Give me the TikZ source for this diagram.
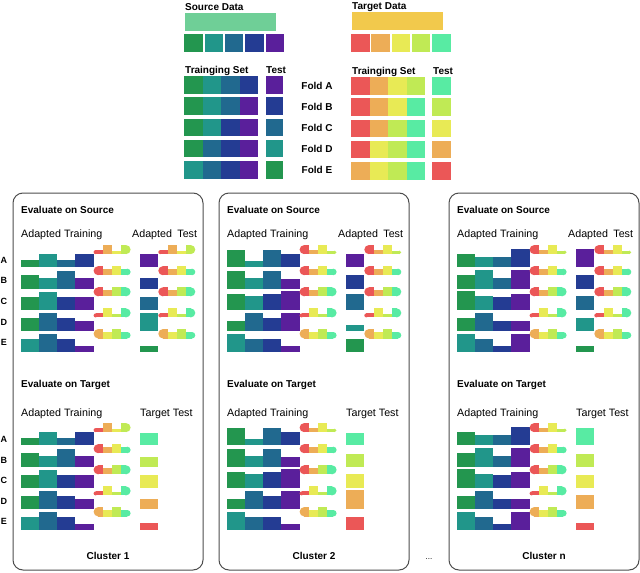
\documentclass[tikz,border=0pt]{standalone}
\usepackage{fontspec}
\setmainfont{Liberation Sans}
\usetikzlibrary{positioning}

\definecolor{sgreen}{HTML}{23964F}
\definecolor{steal}{HTML}{21968A}
\definecolor{sblue}{HTML}{21698F}
\definecolor{snavy}{HTML}{243C93}
\definecolor{spurple}{HTML}{5A1F9B}
\definecolor{tred}{HTML}{EB5757}
\definecolor{torange}{HTML}{EDAD57}
\definecolor{tyellow}{HTML}{E8EA55}
\definecolor{tlime}{HTML}{C0EA55}
\definecolor{tmint}{HTML}{58EBA3}
\definecolor{srcbar}{HTML}{6FCF97}
\definecolor{tgtbar}{HTML}{F2C94C}
\definecolor{boxgray}{HTML}{4D4D4D}

% one row of adapted training bars: x, bottom, colour/height list
\newcommand{\barrow}[3]{%
  \foreach \c/\h [count=\i from 0] in {#3}
    \fill[\c] ({#1+18.15*\i},#2) rectangle ++(18.15,-\h);%
}
% small rounded strip of target colours: x, bottom, colour/height list
\newcommand{\pillrow}[3]{%
  \foreach \c/\h [count=\i from 1] in {#3}{%
    \pgfmathsetmacro\xl{#1+9.25*(\i-1)}%
    \ifnum\i=1
      \fill[\c] ({\xl+\h/2},#2) rectangle ({\xl+9.25},{#2-\h});
      \fill[\c] ({\xl+\h/2},{#2-\h/2}) circle[radius=\h/2];
    \else\ifnum\i=4
      \fill[\c] (\xl,#2) rectangle ({\xl+9.25-\h/2},{#2-\h});
      \fill[\c] ({\xl+9.25-\h/2},{#2-\h/2}) circle[radius=\h/2];
    \else
      \fill[\c] (\xl,#2) rectangle ({\xl+9.25},{#2-\h});
    \fi\fi
  }%
}
% five bar rows: x, y offset, rows A..E
\newcommand{\barset}[7]{%
  \barrow{#1}{267.4+#2}{#3}
  \barrow{#1}{288.5+#2}{#4}
  \barrow{#1}{309.6+#2}{#5}
  \barrow{#1}{330.7+#2}{#6}
  \barrow{#1}{351.8+#2}{#7}%
}
% five strips: x, y offset, first strip (the other four are the same everywhere)
\newcommand{\pillset}[3]{%
  \pillrow{#1}{254.1+#2}{#3}
  \pillrow{#1}{275.2+#2}{tred/9,torange/6.5,tyellow/9,tmint/6.5}
  \pillrow{#1}{296.3+#2}{tred/9,torange/6.5,tlime/9,tmint/9}
  \pillrow{#1}{317.4+#2}{tred/4,tyellow/9,tlime/3.5,tmint/9}
  \pillrow{#1}{338.5+#2}{torange/9.5,tyellow/6.5,tlime/9.5,tmint/6.5}%
}
% test squares: x, y offset, colour/height list
\newcommand{\testcol}[3]{%
  \foreach \c/\h [count=\i from 0] in {#3}
    \fill[\c] (#1,{267.4+21.1*\i+#2}) rectangle ++(18.4,-\h);%
}
% frame and texts of one cluster: x0, name, label
\newcommand{\clusterframe}[3]{%
  \draw[clusterbox] ({#1-8},193) rectangle ({#1+182},570);
  \node[bhead] (#2-src) at (#1,213.5) {Evaluate on Source};
  \node[head] (#2-srctrain) at (#1,237.7) {Adapted Training};
  \node[head] (#2-srctest) at ({#1+111},237.7) {Adapted\enspace Test};
  \node[bhead] (#2-tgt) at (#1,387.5) {Evaluate on Target};
  \node[head] (#2-tgttrain) at (#1,416.7) {Adapted Training};
  \node[head] (#2-tgttest) at ({#1+119},416.7) {Target Test};
  \node[bhead, anchor=base] (#2-name) at ({#1+87},559) {#3};%
}

\begin{document}
\begin{tikzpicture}[x=1pt,y=-1pt,
    bhead/.style={font=\bfseries\fontsize{10}{12}\selectfont, anchor=base west, inner sep=0},
    head/.style={font=\fontsize{10.7}{12}\selectfont, anchor=base west, inner sep=0},
    rowlab/.style={font=\bfseries\fontsize{9}{11}\selectfont, inner sep=0},
    clusterbox/.style={draw=boxgray, line width=1pt, rounded corners=10pt}]
  \useasboundingbox (0,0) rectangle (640,573);
  % Source and target data
  \node[bhead] (srcdata) at (185,10) {Source Data};
  \node[bhead] (tgtdata) at (352,9.5) {Target Data};
  \fill[srcbar] (185,13.3) rectangle (275.5,31);
  \fill[tgtbar] (351.7,12.3) rectangle (443,29.7);
  \foreach \c [count=\j from 0] in {sgreen,steal,sblue,snavy,spurple}
    \fill[\c] ({184.3+20.3*\j},34.3) rectangle ++(18.5,18);
  \foreach \c [count=\j from 0] in {tred,torange,tyellow,tlime,tmint}
    \fill[\c] ({351+20.3*\j},34) rectangle ++(18.5,18);
  % Folds
  \node[bhead] (srctrain) at (185,73) {Trainging Set};
  \node[bhead] (srctest) at (266,73) {Test};
  \node[bhead] (tgttrain) at (352,74.5) {Trainging Set};
  \node[bhead] (tgttest) at (433,74.5) {Test};
  \foreach \f [count=\i from 0] in {A,B,C,D,E}
    \node[bhead, anchor=base] (fold\f) at (317,{89.3+21.1*\i}) {Fold \f};
  \foreach \row [count=\i from 0] in {{sgreen,steal,sblue,snavy,spurple},
      {sgreen,steal,sblue,spurple,snavy},{sgreen,steal,snavy,spurple,sblue},
      {sgreen,sblue,snavy,spurple,steal},{steal,sblue,snavy,spurple,sgreen}}
    \foreach \c [count=\j from 0] in \row {
      \ifnum\j<4
        \fill[\c] ({184.3+18.45*\j},{76+21.25*\i}) rectangle ++(18.45,17.5);
      \else
        \fill[\c] (265.7,{76+21.25*\i}) rectangle ++(17.7,17.5);
      \fi}
  \foreach \row [count=\i from 0] in {{tred,torange,tyellow,tlime,tmint},
      {tred,torange,tyellow,tmint,tlime},{tred,torange,tlime,tmint,tyellow},
      {tred,tyellow,tlime,tmint,torange},{torange,tyellow,tlime,tmint,tred}}
    \foreach \c [count=\j from 0] in \row {
      \ifnum\j<4
        \fill[\c] ({351+18.5*\j},{77.2+21.2*\i}) rectangle ++(18.5,17.5);
      \else
        \fill[\c] (432.3,{77.2+21.2*\i}) rectangle ++(18.4,17.5);
      \fi}
  % Row labels
  \foreach \r [count=\i from 0] in {A,B,C,D,E} {
    \node[rowlab] (srcrow\r) at (4,{260+20.7*\i}) {\r};
    \node[rowlab] (tgtrow\r) at (4,{439.3+20.6*\i}) {\r};
  }
  % Cluster 1
  \clusterframe{21}{c1}{Cluster 1}
  \foreach \yo in {0,178} {
    \barset{21}{\yo}{sgreen/7,steal/13,sblue/7,snavy/13}{sgreen/14,steal/11,sblue/18,spurple/11}%
      {sgreen/13,steal/18,snavy/13,spurple/13}{sgreen/13,sblue/18,snavy/13,spurple/10}%
      {steal/13,sblue/18,snavy/13,spurple/6}
    \pillset{93.6}{\yo}{tred/4,torange/9,tyellow/3,tlime/9}
  }
  \pillset{158.3}{0}{tred/4,torange/9,tyellow/3,tlime/9}
  \testcol{140}{0}{spurple/13,snavy/11,sblue/13,steal/18,sgreen/6}
  \testcol{140}{178}{tmint/12.7,tlime/10,tyellow/12.3,torange/10,tred/6.7}
  % Cluster 2
  \clusterframe{227}{c2}{Cluster 2}
  \foreach \yo in {0,178} {
    \barset{227}{\yo}{sgreen/17.3,steal/6.7,sblue/17.3,snavy/13}{sgreen/18,steal/10.7,sblue/18,spurple/10}%
      {sgreen/15.7,steal/13.3,snavy/15.7,spurple/18.3}{sgreen/10,sblue/18,snavy/13,spurple/17.3}%
      {steal/17.7,sblue/12.7,snavy/12.7,spurple/6}
    \pillset{299.6}{\yo}{tred/9,torange/4,tyellow/9,tlime/3.5}
  }
  \pillset{364.3}{0}{tred/9,torange/4,tyellow/9,tlime/3.5}
  \testcol{346}{0}{spurple/13,snavy/14,sblue/15.3,steal/5.7,sgreen/12.7}
  \testcol{346}{178}{tmint/12.7,tlime/12.7,tyellow/14,torange/18.3,tred/13.3}
  \node[font=\fontsize{8}{10}\selectfont, anchor=base] (dots) at (429,559) {...};
  % Cluster n
  \clusterframe{457}{c3}{Cluster n}
  \foreach \yo in {0,178} {
    \barset{457}{\yo}{sgreen/13,steal/10.7,sblue/10.7,snavy/18}{sgreen/13.3,steal/18.3,sblue/10.7,spurple/18.3}%
      {sgreen/18.3,steal/13.3,snavy/12.7,spurple/15.7}{sgreen/13,sblue/18,snavy/9.7,spurple/9.7}%
      {steal/17.7,sblue/12.7,snavy/6,spurple/17.7}
    \pillset{529.6}{\yo}{tred/9,torange/4,tyellow/9,tlime/3.5}
  }
  \pillset{594.3}{0}{tred/9,torange/4,tyellow/9,tlime/3.5}
  \testcol{576}{0}{spurple/18,snavy/14,sblue/13.3,steal/13,sgreen/6}
  \testcol{576}{178}{tmint/17.3,tlime/12.7,tyellow/12.3,torange/13.3,tred/6.7}
\end{tikzpicture}
\end{document}
